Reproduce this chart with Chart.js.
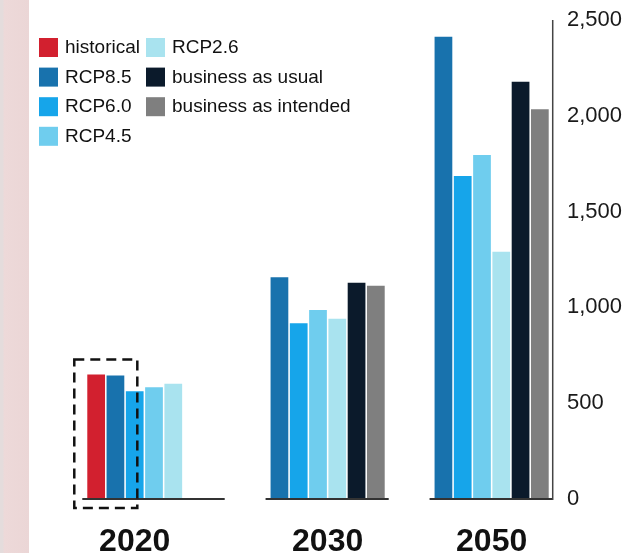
<!DOCTYPE html>
<html>
<head>
<meta charset="utf-8">
<script src="https://cdn.jsdelivr.net/npm/chart.js@4"></script>
<style>
  html, body { margin: 0; padding: 0; background: #fff; }
  #wrap { position: relative; width: 641px; height: 553px; overflow: hidden; }
  #strip { position: absolute; left: 0; top: 0; width: 29px; height: 553px;
           background: linear-gradient(to right, #e4dcdc 0px, #e4dcdc 3px, #edd9d9 4px, #ebd6d6 29px); }
  #chart { position: absolute; left: 0; top: 0; }
</style>
</head>
<body>
<div id="wrap">
  <div id="strip"></div>
  <canvas id="chart" width="641" height="553"></canvas>
</div>
<script>
const years = ['2020', '2030', '2050']
const yTicks = ['0', '500', '1,000', '1,500', '2,000', '2,500']

const seriesNames = ['historical', 'RCP8.5', 'RCP6.0', 'RCP4.5', 'RCP2.6', 'business as usual', 'business as intended']
const seriesColors = ['#d2202f', '#1872ad', '#16a5ea', '#6fcdee', '#a9e3ef', '#0b1a2b', '#7f7f7f']

const historical = [650, null, null]
const rcp85 = [645, 1157, 2413]
const rcp60 = [563, 917, 1686]
const rcp45 = [583, 986, 1795]
const rcp26 = [602, 941, 1291]
const bau = [null, 1129, 2178]
const bai = [null, 1113, 2034]

const seriesValues = [historical, rcp85, rcp60, rcp45, rcp26, bau, bai]

const FONT = '"Liberation Sans", Arial, sans-serif'

// baselines, axis line, dashed box, year labels and legend
const decorations = {
    id: 'decorations',
    afterDatasetsDraw(chart){
        const ctx = chart.ctx
        const area = chart.chartArea
        const base = chart.scales.y.getPixelForValue(0)
        const metas = chart.data.datasets.map((d, i) => chart.getDatasetMeta(i))

        // per-year extents of visible bars
        const groups = years.map((y, i) => {
            let left = Infinity, right = -Infinity, fullRight = -Infinity
            metas.forEach((m, k) => {
                const bar = m.data[i]
                fullRight = Math.max(fullRight, bar.x + bar.width / 2)
                if (chart.data.datasets[k].data[i] == null) return
                left = Math.min(left, bar.x - bar.width / 2)
                right = Math.max(right, bar.x + bar.width / 2)
            })
            return {left, right, fullRight}
        })

        ctx.save()
        ctx.strokeStyle = '#333'
        ctx.lineWidth = 2
        groups.forEach(g => {
            ctx.beginPath()
            ctx.moveTo(g.left - 5, base)
            ctx.lineTo(Math.max(g.right, g.fullRight) + 4, base)
            ctx.stroke()
        })

        // right axis line
        const axisX = groups[groups.length - 1].right + 4
        ctx.strokeStyle = '#444'
        ctx.lineWidth = 1.5
        ctx.beginPath()
        ctx.moveTo(axisX, area.top)
        ctx.lineTo(axisX, base + 1)
        ctx.stroke()

        // dashed box around historical + RCP8.5 in 2020
        const h = metas[0].data[0], r = metas[1].data[0]
        const bx0 = h.x - h.width / 2 - 13
        const bx1 = r.x + r.width / 2 + 13
        const by0 = Math.min(h.y, r.y) - 15
        const by1 = base + 9
        ctx.strokeStyle = '#111'
        ctx.lineWidth = 2.5
        ctx.setLineDash([10, 6])
        ctx.strokeRect(bx0, by0, bx1 - bx0, by1 - by0)
        ctx.setLineDash([])

        // year labels
        ctx.fillStyle = '#111'
        ctx.font = 'bold 32px ' + FONT
        ctx.textAlign = 'center'
        ctx.textBaseline = 'alphabetic'
        groups.forEach((g, i) => {
            ctx.fillText(years[i], (g.left + g.right) / 2, 551)
        })

        // legend, 4 per column
        ctx.font = '19px ' + FONT
        ctx.textAlign = 'left'
        ctx.textBaseline = 'middle'
        seriesNames.forEach((name, k) => {
            const col = Math.floor(k / 4), row = k % 4
            const x = 39 + col * 107
            const y = 38 + row * 29.6
            ctx.fillStyle = seriesColors[k]
            ctx.fillRect(x, y, 19, 19)
            ctx.fillStyle = '#111'
            ctx.fillText(name, x + 26, y + 10)
        })
        ctx.restore()
    }
}

const datasets = seriesNames.map((name, k) => ({
    label: name,
    data: seriesValues[k],
    backgroundColor: seriesColors[k],
    borderWidth: 0
}))

new Chart(document.querySelector('#chart'), {
    type: 'bar',
    data: {labels: years, datasets: datasets},
    options: {
        responsive: false,
        animation: false,
        categoryPercentage: 0.823,
        barPercentage: 0.92,
        layout: {padding: {left: 72, right: 0, top: 20, bottom: 54}},
        plugins: {legend: {display: false}, tooltip: {enabled: false}},
        scales: {
            x: {display: false, offset: true},
            y: {
                position: 'right',
                min: 0,
                max: 2500,
                grid: {display: false, drawTicks: false},
                border: {display: false},
                afterFit: scale => { scale.width = 77 },
                ticks: {
                    stepSize: 500,
                    padding: 3,
                    color: '#1a1a1a',
                    font: {family: FONT, size: 22},
                    callback: v => yTicks[Math.round(v / 500)]
                }
            }
        }
    },
    plugins: [decorations]
})
</script>
</body>
</html>
